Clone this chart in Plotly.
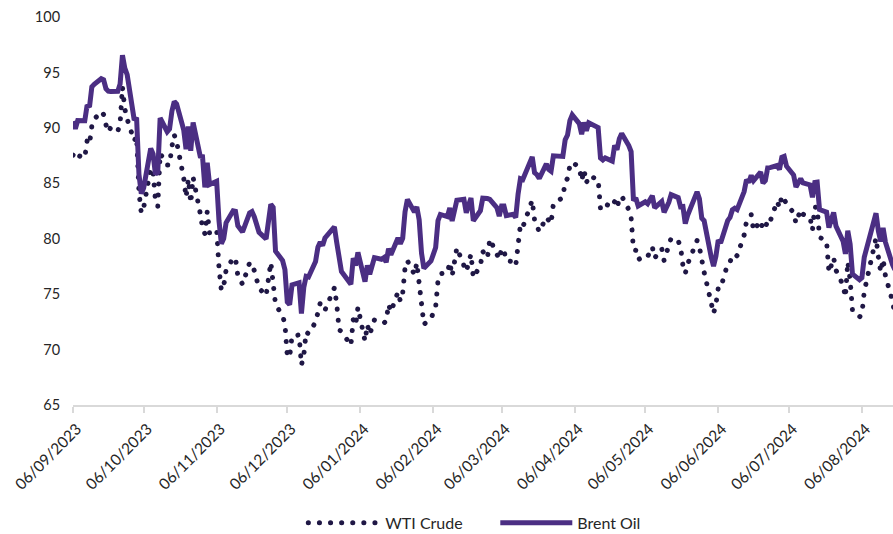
import plotly.graph_objects as go

# ---- trading dates, by month ----
d_sep23 = ["2023-09-06","2023-09-07","2023-09-08","2023-09-11","2023-09-12","2023-09-13","2023-09-14","2023-09-15","2023-09-18","2023-09-19","2023-09-20","2023-09-21","2023-09-22","2023-09-25","2023-09-26","2023-09-27","2023-09-28","2023-09-29"]
d_oct23 = ["2023-10-02","2023-10-03","2023-10-04","2023-10-05","2023-10-06","2023-10-09","2023-10-10","2023-10-11","2023-10-12","2023-10-13","2023-10-16","2023-10-17","2023-10-18","2023-10-19","2023-10-20","2023-10-23","2023-10-24","2023-10-25","2023-10-26","2023-10-27","2023-10-30","2023-10-31"]
d_nov23 = ["2023-11-01","2023-11-02","2023-11-03","2023-11-06","2023-11-07","2023-11-08","2023-11-09","2023-11-10","2023-11-13","2023-11-14","2023-11-15","2023-11-17","2023-11-20","2023-11-21","2023-11-22","2023-11-23","2023-11-24","2023-11-27","2023-11-28","2023-11-29","2023-11-30"]
d_dec23 = ["2023-12-01","2023-12-04","2023-12-05","2023-12-06","2023-12-07","2023-12-08","2023-12-11","2023-12-12","2023-12-13","2023-12-14","2023-12-15","2023-12-18","2023-12-19","2023-12-20","2023-12-21","2023-12-22","2023-12-26","2023-12-27","2023-12-28","2023-12-29"]
d_jan24 = ["2024-01-02","2024-01-03","2024-01-04","2024-01-05","2024-01-08","2024-01-09","2024-01-10","2024-01-11","2024-01-12","2024-01-15","2024-01-16","2024-01-17","2024-01-18","2024-01-19","2024-01-22","2024-01-23","2024-01-24","2024-01-25","2024-01-26","2024-01-29","2024-01-30","2024-01-31"]
d_feb24 = ["2024-02-01","2024-02-02","2024-02-05","2024-02-06","2024-02-07","2024-02-08","2024-02-09","2024-02-12","2024-02-13","2024-02-14","2024-02-15","2024-02-16","2024-02-19","2024-02-20","2024-02-21","2024-02-22","2024-02-23","2024-02-26","2024-02-27","2024-02-28","2024-02-29"]
d_mar24 = ["2024-03-01","2024-03-04","2024-03-05","2024-03-06","2024-03-07","2024-03-08","2024-03-11","2024-03-12","2024-03-13","2024-03-14","2024-03-15","2024-03-18","2024-03-19","2024-03-20","2024-03-21","2024-03-22","2024-03-25","2024-03-26","2024-03-27","2024-03-28"]
d_apr24 = ["2024-04-01","2024-04-02","2024-04-03","2024-04-04","2024-04-05","2024-04-08","2024-04-09","2024-04-10","2024-04-11","2024-04-12","2024-04-15","2024-04-16","2024-04-17","2024-04-18","2024-04-19","2024-04-22","2024-04-23","2024-04-24","2024-04-25","2024-04-26","2024-04-29","2024-04-30"]
d_may24 = ["2024-05-01","2024-05-02","2024-05-03","2024-05-06","2024-05-07","2024-05-08","2024-05-09","2024-05-10","2024-05-13","2024-05-14","2024-05-15","2024-05-16","2024-05-17","2024-05-20","2024-05-21","2024-05-22","2024-05-23","2024-05-24","2024-05-27","2024-05-28","2024-05-29","2024-05-30","2024-05-31"]
d_jun24 = ["2024-06-03","2024-06-04","2024-06-05","2024-06-06","2024-06-07","2024-06-10","2024-06-11","2024-06-12","2024-06-13","2024-06-14","2024-06-17","2024-06-18","2024-06-19","2024-06-20","2024-06-21","2024-06-24","2024-06-25","2024-06-26","2024-06-27","2024-06-28"]
d_jul24 = ["2024-07-01","2024-07-02","2024-07-03","2024-07-04","2024-07-05","2024-07-08","2024-07-09","2024-07-10","2024-07-11","2024-07-12","2024-07-15","2024-07-16","2024-07-17","2024-07-18","2024-07-19","2024-07-22","2024-07-23","2024-07-24","2024-07-25","2024-07-26","2024-07-29","2024-07-30","2024-07-31"]
d_aug24 = ["2024-08-01","2024-08-02","2024-08-05","2024-08-06","2024-08-07","2024-08-08","2024-08-09","2024-08-12","2024-08-13","2024-08-14","2024-08-15","2024-08-16","2024-08-19","2024-08-20"]

# ---- Brent Oil (USD/bbl) ----
b_sep23 = [90.60, 89.92, 90.65, 90.64, 92.06, 91.88, 93.70, 93.93, 94.43, 94.34, 93.53, 93.30, 93.27, 93.29, 93.96, 96.55, 95.38, 94.80]
b_oct23 = [90.71, 90.92, 85.81, 84.07, 84.58, 88.15, 87.65, 85.82, 86.00, 90.89, 89.65, 89.90, 91.50, 92.38, 92.16, 89.83, 88.07, 90.13, 87.93, 90.48, 87.45, 87.41]
b_nov23 = [84.63, 86.85, 84.89, 85.18, 81.61, 79.54, 80.01, 81.43, 82.52, 82.47, 81.18, 80.61, 82.32, 82.45, 81.96, 81.42, 80.58, 79.98, 81.68, 83.10, 82.83]
b_dec23 = [78.88, 78.03, 77.20, 74.30, 74.05, 75.84, 76.03, 73.24, 75.60, 76.61, 76.55, 77.95, 79.23, 79.70, 79.39, 80.07, 81.07, 79.65, 78.39, 77.04]
b_jan24 = [75.89, 78.25, 77.59, 78.76, 76.12, 77.59, 76.80, 77.41, 78.29, 78.15, 78.29, 77.88, 79.10, 78.56, 80.06, 79.55, 80.04, 82.43, 83.55, 82.40, 82.87, 81.71]
b_feb24 = [78.70, 77.33, 77.99, 78.59, 79.21, 81.63, 82.19, 82.00, 82.77, 81.60, 82.86, 83.47, 83.56, 82.34, 83.03, 83.67, 81.62, 82.53, 83.65, 83.68, 83.62]
b_mar24 = [83.55, 82.80, 82.04, 82.96, 82.96, 82.08, 82.21, 81.92, 84.03, 85.42, 85.34, 86.89, 87.38, 85.95, 85.78, 85.43, 86.75, 86.25, 86.09, 87.48]
b_apr24 = [87.42, 88.92, 89.35, 90.65, 91.17, 90.38, 89.42, 90.48, 89.74, 90.45, 90.10, 90.02, 87.29, 87.11, 87.29, 87.00, 88.42, 88.02, 89.01, 89.50, 88.40, 87.86]
b_may24 = [83.44, 83.67, 82.96, 83.33, 83.16, 83.58, 83.88, 82.79, 83.36, 82.38, 82.75, 83.27, 83.98, 83.71, 82.88, 82.90, 81.36, 82.12, None, 84.22, 83.60, 81.86, 81.62]
b_jun24 = [78.36, 77.52, 78.41, 79.87, 79.62, 81.63, 81.92, 82.60, 82.75, 82.62, 84.25, 85.33, 85.07, 85.71, 85.24, 86.01, 85.01, 85.25, 86.39, 86.41]
b_jul24 = [86.60, 86.24, 87.34, 87.43, 86.54, 85.75, 84.66, 85.08, 85.40, 85.03, 84.85, 83.73, 85.08, 85.11, 82.63, 82.40, 81.01, 81.71, 82.37, 81.13, 79.78, 78.63, 80.72]
b_aug24 = [79.52, 76.81, 76.30, 76.48, 78.33, 79.16, 79.66, 82.30, 80.69, 79.76, 80.98, 79.68, 77.66, 77.20]

# ---- WTI Crude (USD/bbl) ----
w_sep23 = [87.54, 87.87, 87.51, 87.29, 88.84, 88.52, 90.16, 90.77, 91.48, 91.20, 90.28, 89.63, 90.03, 89.68, 90.39, 93.68, 91.71, 90.79]
w_oct23 = [88.82, 89.23, 84.22, 82.31, 82.79, 86.38, 85.97, 83.49, 82.91, 87.69, 86.66, 86.66, 88.32, 89.37, 88.75, 85.49, 83.74, 85.39, 83.21, 85.54, 82.31, 81.02]
w_nov23 = [80.44, 82.46, 80.51, 80.82, 77.37, 75.33, 75.74, 77.17, 78.26, 78.26, 76.66, 75.89, 77.83, 77.77, 77.10, None, 75.54, 74.86, 76.41, 77.86, 75.96]
w_dec23 = [74.07, 73.04, 72.32, 69.38, 69.34, 71.23, 71.32, 68.61, 69.47, 71.58, 71.43, 72.47, 73.44, 74.22, 73.89, 73.56, 75.57, 74.11, 71.77, 71.65]
w_jan24 = [70.38, 72.70, 72.19, 73.81, 70.77, 72.24, 71.37, 72.02, 72.68, None, 72.40, 72.56, 74.08, 73.41, 75.19, 74.37, 75.09, 77.36, 78.01, 76.78, 77.82, 75.85]
w_feb24 = [73.82, 72.28, 72.78, 73.31, 73.86, 76.22, 76.84, 76.92, 77.87, 76.64, 78.03, 79.19, None, 77.04, 77.91, 78.61, 76.49, 77.58, 78.87, 78.54, 78.26]
w_mar24 = [79.97, 78.74, 78.15, 79.13, 78.93, 78.01, 77.93, 77.56, 79.72, 81.26, 81.04, 82.72, 83.47, 81.68, 81.07, 80.63, 81.95, 81.62, 81.35, 83.17]
w_apr24 = [83.71, 85.15, 85.43, 86.59, 86.91, 86.43, 85.23, 86.21, 85.02, 85.66, 85.41, 85.36, 82.69, 82.73, 83.14, 82.85, 83.36, 82.81, 83.57, 83.85, 82.63, 81.93]
w_may24 = [79.00, 78.95, 78.11, 78.48, 78.38, 78.99, 79.26, 78.26, 79.12, 78.02, 78.63, 79.23, 80.06, 79.80, 79.26, 77.57, 76.87, 77.72, None, 79.83, 79.23, 77.91, 76.99]
w_jun24 = [74.22, 73.25, 74.07, 75.55, 75.53, 77.74, 77.90, 78.50, 78.62, 78.45, 80.33, 81.57, None, 82.17, 80.73, 81.63, 80.83, 80.90, 81.74, 81.54]
w_jul24 = [83.38, 82.81, 83.88, None, 83.16, 82.33, 81.41, 82.10, 82.62, 82.21, 81.91, 80.76, 82.85, 82.82, 80.13, 79.78, 76.96, 77.59, 78.28, 77.16, 75.81, 74.73, 77.91]
w_aug24 = [76.31, 73.52, 72.94, 73.20, 75.23, 76.19, 76.84, 80.06, 78.35, 76.98, 78.16, 76.65, 74.37, 73.17]

# ---- axis ticks ----
tick_dates = ["2023-09-06","2023-10-06","2023-11-06","2023-12-06","2024-01-06","2024-02-06",
              "2024-03-06","2024-04-06","2024-05-06","2024-06-06","2024-07-06","2024-08-06"]
tick_labels = ["06/09/2023","06/10/2023","06/11/2023","06/12/2023","06/01/2024","06/02/2024",
               "06/03/2024","06/04/2024","06/05/2024","06/06/2024","06/07/2024","06/08/2024"]

dates = (d_sep23 + d_oct23 + d_nov23 + d_dec23 + d_jan24 + d_feb24 + d_mar24 + d_apr24
         + d_may24 + d_jun24 + d_jul24 + d_aug24)
brent = (b_sep23 + b_oct23 + b_nov23 + b_dec23 + b_jan24 + b_feb24 + b_mar24 + b_apr24
         + b_may24 + b_jun24 + b_jul24 + b_aug24)
wti = (w_sep23 + w_oct23 + w_nov23 + w_dec23 + w_jan24 + w_feb24 + w_mar24 + w_apr24
       + w_may24 + w_jun24 + w_jul24 + w_aug24)
assert len(dates) == len(brent) == len(wti)

FONT = "Lato"
fig = go.Figure()
fig.add_trace(go.Scatter(x=dates, y=wti, name="WTI Crude", mode="lines", connectgaps=True,
                         line=dict(color="#1F1745", width=5, dash="0.1px,11px")))
fig.add_trace(go.Scatter(x=dates, y=brent, name="Brent Oil", mode="lines", connectgaps=True,
                         line=dict(color="#4B2E83", width=5)))

fig.update_layout(
    width=893, height=534,
    margin=dict(l=73, r=0, t=17, b=129, autoexpand=False),
    paper_bgcolor="white", plot_bgcolor="white",
    font=dict(family=FONT, size=14, color="#262626"),
    showlegend=True,
    legend=dict(orientation="h", x=0.515, xanchor="center", y=-0.304, yanchor="middle",
                font=dict(size=16, color="#262626"), itemwidth=72, traceorder="normal",
                entrywidth=105),
    xaxis=dict(type="date", range=["2023-09-06", "2024-08-19 05:00"], automargin=False,
               tickmode="array", tickvals=tick_dates, ticktext=tick_labels,
               tickangle=-45, ticks="outside", ticklen=6, tickcolor="#d9d9d9", tickwidth=1.5,
               ticklabelstandoff=1, ticklabelshift=4,
               showline=True, linecolor="#d9d9d9", linewidth=1.5, showgrid=False, zeroline=False,
               tickfont=dict(size=15.5, color="#262626")),
    yaxis=dict(range=[65, 100], dtick=5, tick0=65, showgrid=False, showline=False, zeroline=False,
               automargin=False,
               ticks="outside", ticklen=9, tickcolor="rgba(0,0,0,0)",
               tickfont=dict(size=14.5, color="#262626")),
)

post = """
document.documentElement.style.margin = '0';
document.body.style.margin = '0';
document.body.style.padding = '0';
var gd = document.getElementById('{plot_id}');
function roundDots(){
  gd.querySelectorAll('path').forEach(function(p){
    var d = p.style.strokeDasharray;
    if (d && d !== 'none') { p.style.strokeLinecap = 'round'; }
  });
}
roundDots();
gd.on('plotly_afterplot', roundDots);
"""
fig.write_html("out.html", post_script=post, config={"displayModeBar": False})
